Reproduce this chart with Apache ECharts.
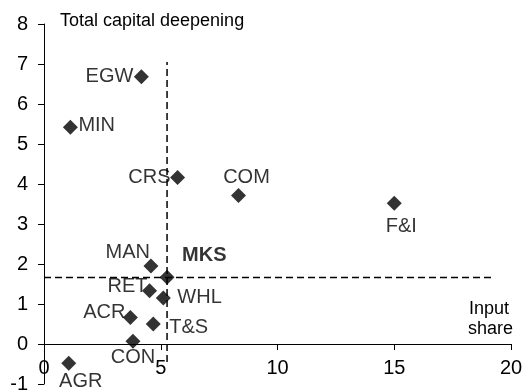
<!DOCTYPE html>
<html>
<head>
<meta charset="utf-8">
<script src="https://cdn.jsdelivr.net/npm/echarts@6/dist/echarts.min.js"></script>
<style>
html,body{margin:0;padding:0;background:#fff;}
#chart{width:532px;height:390px;}
</style>
</head>
<body>
<div id="chart"></div>
<script>
// ---- data ----
var sectors      = ['EGW', 'MIN', 'CRS', 'COM', 'F&I', 'MAN', 'MKS', 'RET', 'WHL', 'ACR', 'T&S', 'CON', 'AGR'];
var inputShare   = [4.17, 1.13, 5.72, 8.33, 15.0, 4.58, 5.27, 4.52, 5.11, 3.70, 4.68, 3.81, 1.06];
var capDeepening = [6.68, 5.42, 4.16, 3.71, 3.52, 1.95, 1.67, 1.33, 1.15, 0.66, 0.50, 0.07, -0.48];
var xTicks = [0, 5, 10, 15, 20];
var yTicks = [-1, 0, 1, 2, 3, 4, 5, 6, 7, 8];
var refShare = 5.27;          // vertical dashed reference (MKS input share)
var refDeepening = 1.66;      // horizontal dashed reference (MKS deepening)
var vRefSpan = [-0.45, 7.05];
var hRefSpan = [0, 19.27];

// ---- label placement (style only) ----
var H = 7.5;
var labelPlace = {
  'EGW': {align: 'right',  dx: -8,  dy: 0},
  'MIN': {align: 'left',   dx: 8,   dy: -2},
  'CRS': {align: 'right',  dx: -7,  dy: 0},
  'COM': {align: 'center', dx: 8,   dy: -18},
  'F&I': {align: 'center', dx: 7,   dy: 23},
  'MAN': {align: 'right',  dx: -1,  dy: -14},
  'MKS': {align: 'left',   dx: 15,  dy: -22, bold: true},
  'RET': {align: 'right',  dx: -2,  dy: -4},
  'WHL': {align: 'left',   dx: 14,  dy: -1},
  'ACR': {align: 'right',  dx: -5,  dy: -5},
  'T&S': {align: 'left',   dx: 16,  dy: 3},
  'CON': {align: 'center', dx: 0,   dy: 16},
  'AGR': {align: 'center', dx: 12,  dy: 18}
};

var FONT = 'Arial, "Liberation Sans", Helvetica, sans-serif';

var points = sectors.map(function (s, i) {
  var p = labelPlace[s];
  return {
    name: s,
    value: [inputShare[i], capDeepening[i]],
    label: {
      show: true,
      formatter: s,
      position: [H + p.dx, H + p.dy],
      align: p.align,
      verticalAlign: 'middle',
      fontSize: 20,
      fontWeight: p.bold ? 'bold' : 'normal',
      color: '#000',
      fontFamily: FONT
    }
  };
});

var chart = echarts.init(document.getElementById('chart'), null, {renderer: 'canvas'});
chart.setOption({
  backgroundColor: '#fff',
  animation: false,
  grid: {left: 44, right: 21, top: 24, bottom: 6, containLabel: false, outerBoundsMode: 'none'},
  xAxis: {
    type: 'value',
    min: xTicks[0], max: xTicks[xTicks.length - 1], interval: xTicks[1] - xTicks[0],
    offset: -40,
    axisLine: {show: true, onZero: false, lineStyle: {color: '#000', width: 1}},
    axisTick: {show: true, inside: false, length: 6, lineStyle: {color: '#000'}},
    axisLabel: {color: '#000', fontSize: 20, fontFamily: FONT, margin: 14, hideOverlap: false},
    splitLine: {show: false}
  },
  yAxis: {
    type: 'value',
    min: yTicks[0], max: yTicks[yTicks.length - 1], interval: yTicks[1] - yTicks[0],
    axisLine: {show: true, onZero: false, lineStyle: {color: '#000', width: 1}},
    axisTick: {show: true, inside: false, length: 6, lineStyle: {color: '#000'}},
    axisLabel: {color: '#000', fontSize: 20, fontFamily: FONT, margin: 16, hideOverlap: false},
    splitLine: {show: false}
  },
  graphic: [
    {type: 'text', left: 60, top: 12,
     style: {text: 'Total capital deepening', fontSize: 18, fontFamily: FONT, fill: '#000'}},
    {type: 'text', left: 469, top: 300,
     style: {text: 'Input', fontSize: 18, fontFamily: FONT, fill: '#000'}},
    {type: 'text', left: 468, top: 320,
     style: {text: 'share', fontSize: 18, fontFamily: FONT, fill: '#000'}}
  ],
  series: [
    {
      type: 'line', symbol: 'none', silent: true, z: 1,
      data: [[refShare, vRefSpan[0]], [refShare, vRefSpan[1]]],
      lineStyle: {color: '#000', width: 1.5, type: [7, 4]}
    },
    {
      type: 'line', symbol: 'none', silent: true, z: 1,
      data: [[hRefSpan[0], refDeepening], [hRefSpan[1], refDeepening]],
      lineStyle: {color: '#000', width: 1.5, type: [7, 4]}
    },
    {
      type: 'scatter', z: 3,
      symbol: 'diamond', symbolSize: 15,
      itemStyle: {color: '#000'},
      data: points
    }
  ]
});
</script>
</body>
</html>
